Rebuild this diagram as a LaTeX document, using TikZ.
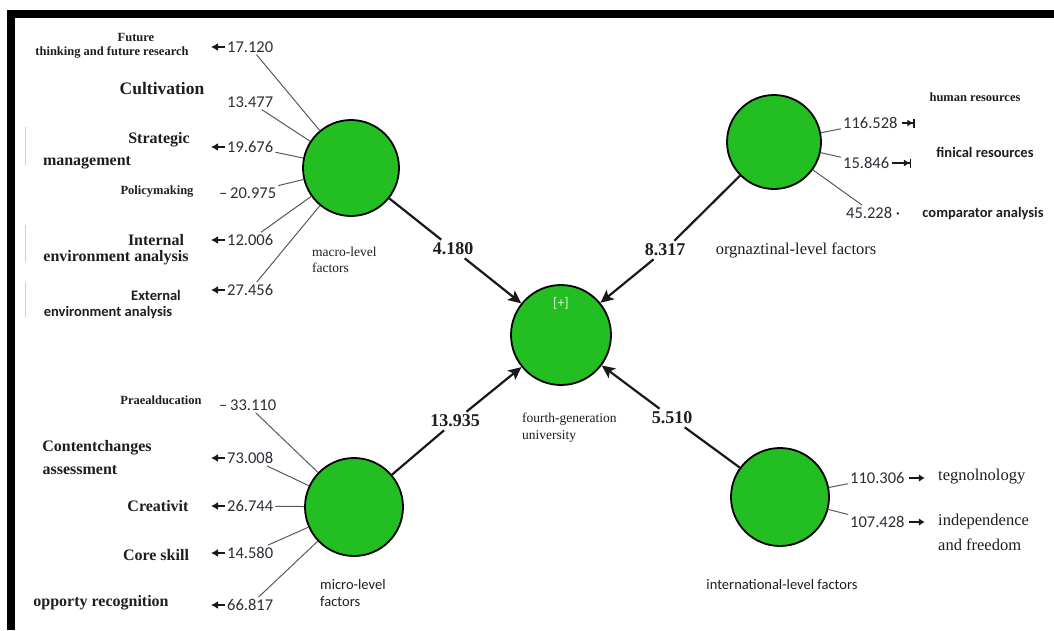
\documentclass[tikz,border=0pt]{standalone}
\usepackage{fontspec}
\setmainfont{Liberation Serif}
\newfontfamily\calfont{Carlito}
\usetikzlibrary{arrows.meta}
\definecolor{pgreen}{RGB}{34,190,34}
\definecolor{numc}{RGB}{45,45,55}
\definecolor{spokec}{RGB}{90,90,90}
\definecolor{txtc}{RGB}{30,30,30}
\definecolor{ylw}{RGB}{214,220,110}
\definecolor{plusc}{RGB}{215,245,215}
\begin{document}
\begin{tikzpicture}[x=1pt,y=-1pt,
  lv/.style={circle,draw=black,line width=1.8pt,fill=pgreen,inner sep=0pt},
  nm/.style={font=\calfont\fontsize{16.5}{16.5}\selectfont,text=numc,inner sep=2pt,anchor=west},
  vl/.style={font=\bfseries\fontsize{18}{18}\selectfont,text=txtc,inner sep=3pt},
  bb/.style={font=\bfseries\fontsize{16}{16}\selectfont,text=txtc,inner sep=0pt},
  bbl/.style={font=\bfseries\fontsize{17.5}{17.5}\selectfont,text=txtc,inner sep=0pt},
  sb/.style={font=\bfseries\fontsize{12.5}{12.5}\selectfont,text=txtc,inner sep=0pt},
  sr/.style={font=\fontsize{13.5}{13.5}\selectfont,text=txtc,inner sep=0pt,anchor=west},
  rr/.style={font=\fontsize{16.5}{16.5}\selectfont,text=txtc,inner sep=0pt},
  cb/.style={font=\calfont\bfseries\fontsize{14.5}{14.5}\selectfont,text=txtc,inner sep=0pt},
  cr/.style={font=\calfont\fontsize{14.5}{14.5}\selectfont,text=txtc,inner sep=0pt},
  spoke/.style={draw=spokec,line width=1pt},
  conn/.style={draw=black!90,line width=2.2pt},
  conna/.style={conn,-{Stealth[length=13pt,width=12pt,inset=3pt]}},
  larr/.style={draw=black!90,line width=1.5pt,-{Latex[length=7pt,width=8pt]}},
  rarr/.style={draw=black!90,line width=1.4pt,-{Latex[length=6pt,width=8pt]}},
  rbar/.style={draw=black!90,line width=1.4pt,-{Latex[length=6pt,width=7pt]Bar[width=9pt]}},
  yl/.style={draw=ylw,line width=1pt}
]
\useasboundingbox (0,0) rectangle (1054,630);
\fill[white] (0,0) rectangle (1054,630);
\fill[black] (7,10) rectangle (1054,18);
\fill[black] (7,10) rectangle (15,630);

% yellow marks
\draw[yl] (25,127) -- (25,165);
\draw[yl] (25,225) -- (25,262);
\draw[yl] (25,282) -- (25,317);

% latent variables
\node[lv,minimum size=96pt] (macro) at (351,168) {};
\node[lv,minimum size=100pt] (fgu) at (561,335) {};
\node[lv,minimum size=94pt] (org) at (774,142) {};
\node[lv,minimum size=98pt] (micro) at (354,507) {};
\node[lv,minimum size=98pt] (intl) at (780,497) {};
\node[font=\calfont\fontsize{14}{14}\selectfont,text=plusc] (plus) at (561,303) {[+]};

% path coefficients
\node[vl] (v1) at (453,249) {4.180};
\node[vl] (v2) at (665,250) {8.317};
\node[vl] (v3) at (455,421) {13.935};
\node[vl] (v4) at (672,418) {5.510};
\draw[conn] (macro) -- (v1); \draw[conna] (v1) -- (fgu);
\draw[conn] (org) -- (v2); \draw[conna] (v2) -- (fgu);
\draw[conn] (micro) -- (v3); \draw[conna] (v3) -- (fgu);
\draw[conn] (intl) -- (v4); \draw[conna] (v4) -- (fgu);

% macro indicators
\node[nm] (m1) at (225,47) {17.120};
\node[nm] (m2) at (225,102) {13.477};
\node[nm] (m3) at (225,147) {19.676};
\node[nm] (m4) at (217,193) {\textendash\,20.975};
\node[nm] (m5) at (225,240) {12.006};
\node[nm] (m6) at (225,290) {27.456};
\foreach \n in {m1,m2,m3,m4,m5,m6} \draw[spoke] (macro) -- (\n);
\foreach \n in {m1,m3,m5,m6} \draw[larr] (\n.west) -- ++(-14,0);

\node[sb] (fut1) at (136,37) {Future};
\node[sb] (fut2) at (112,52) {thinking and future research};
\node[bbl] (cult) at (162,89) {Cultivation};
\node[bb] (str1) at (159,140) {Strategic};
\node[bb] (str2) at (87,163) {management};
\node[sb] (pol) at (157,192) {Policymaking};
\node[bb] (int1) at (156,240) {Internal};
\node[bb] (int2) at (116,258) {environment analysis};
\node[cb] (ext1) at (156,295) {External};
\node[cb] (ext2) at (108,313) {environment analysis};
\node[sr] (mac1) at (312,252) {macro-level};
\node[sr] (mac2) at (312,268) {factors};

% micro indicators
\node[nm] (u1) at (217,405) {\textendash\,33.110};
\node[nm] (u2) at (225,458) {73.008};
\node[nm] (u3) at (225,506) {26.744};
\node[nm] (u4) at (225,553) {14.580};
\node[nm] (u5) at (225,605) {66.817};
\foreach \n in {u1,u2,u3,u4,u5} \draw[spoke] (micro) -- (\n);
\foreach \n in {u2,u3,u4,u5} \draw[larr] (\n.west) -- ++(-14,0);

\node[sb] (pre) at (161,400) {Praealducation};
\node[bb] (con1) at (97,448) {Contentchanges};
\node[bb] (con2) at (80,470) {assessment};
\node[bb] (cre) at (158,506) {Creativit};
\node[bb] (core) at (156,555) {Core skill};
\node[bb] (opp) at (101,603) {opporty recognition};
\node[cr,anchor=west] (mic1) at (320,585) {micro-level};
\node[cr,anchor=west] (mic2) at (320,602) {factors};

% organisational indicators
\node[nm] (o1) at (841,123) {116.528};
\node[nm] (o2) at (841,163) {15.846};
\node[nm] (o3) at (844,213) {45.228\ \textperiodcentered};
\foreach \n in {o1,o2,o3} \draw[spoke] (org) -- (\n);
\draw[rbar] ([xshift=2pt]o1.east) -- ++(13,0);
\draw[rbar] ([xshift=1pt]o2.east) -- ++(19,0);
\node[sb] (hr) at (975,97) {human resources};
\node[cb] (fin) at (985,152) {finical resources};
\node[cb] (comp) at (983,214) {comparator analysis};
\node[rr] (orgl) at (796,250) {orgnaztinal-level factors};

% international indicators
\node[nm] (i1) at (848,478) {110.306};
\node[nm] (i2) at (848,522) {107.428};
\foreach \n in {i1,i2} \draw[spoke] (intl) -- (\n);
\draw[rarr] ([xshift=2pt]i1.east) -- ++(16,0);
\draw[rarr] ([xshift=2pt]i2.east) -- ++(16,0);
\node[rr,anchor=west] (teg) at (938,477) {tegnolnology};
\node[rr,anchor=west] (ind1) at (938,522) {independence};
\node[rr,anchor=west] (ind2) at (938,545) {and freedom};
\node[cr] (intl1) at (782,585) {international-level factors};

% target construct label
\node[sr] (fg1) at (522,419) {fourth-generation};
\node[sr] (fg2) at (522,436) {university};
\end{tikzpicture}
\end{document}
